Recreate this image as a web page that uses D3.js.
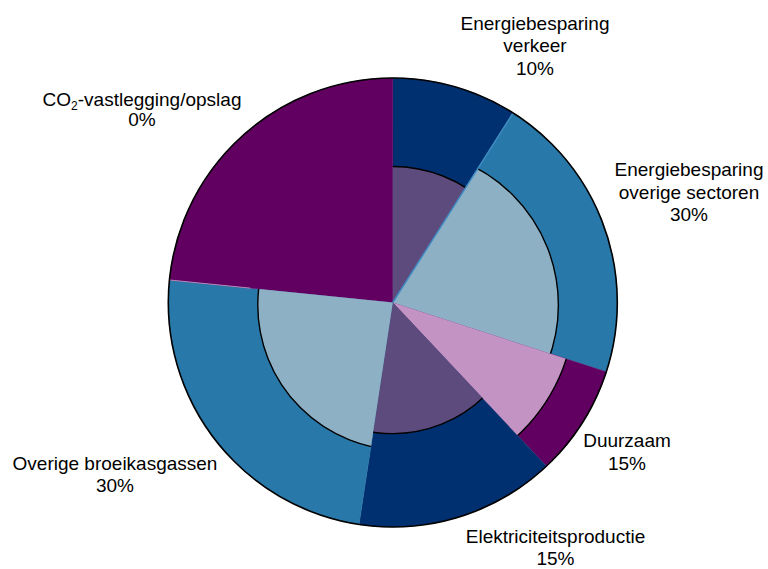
<!DOCTYPE html>
<html>
<head>
<meta charset="utf-8">
<script src="https://cdn.jsdelivr.net/npm/d3@7/dist/d3.min.js"></script>
<style>
  html, body { margin: 0; padding: 0; background: #ffffff; }
  svg { display: block; }
  text { font-family: "Liberation Sans", Arial, sans-serif; fill: #000; }
</style>
</head>
<body>
<svg id="chart" width="768" height="569"></svg>
<script>
// ---- data ----
const categories = ["Energiebesparing verkeer", "Energiebesparing overige sectoren", "Duurzaam",
                    "Elektriciteitsproductie", "Overige broeikasgassen", "CO2-vastlegging/opslag"];
const outerShares = [9, 21, 8, 14.4, 24.2, 23.4];            // size of each slice (outer ring)
const innerShares = [0.606, 0.693, 0.813, 0.584, 0.646, 0];  // relative radius of the inner (overlay) slice
const labelLines = [
  ["Energiebesparing", "verkeer"],
  ["Energiebesparing", "overige sectoren"],
  ["Duurzaam"],
  ["Elektriciteitsproductie"],
  ["Overige broeikasgassen"],
  ["CO2-vastlegging/opslag"]
];
const labelPct = ["10%", "30%", "15%", "15%", "30%", "0%"];

// ---- styling / layout ----
const W = 768, H = 569;
const cx = 392.8, cy = 302.5, R = 224.5;
const outerColors = ["#00306F", "#2878A9", "#610061", "#00306F", "#2878A9", "#610061"];
const innerColors = ["#5E4B7D", "#8DB0C5", "#C393C3", "#5E4B7D", "#8DB0C5", "#5E4B7D"];
const innerOffsets = [[0, 0], [10, 2.5], [0, 0], [0, 0], [10, 2.5], [0, 0]];
const labelPos = [
  { x: 535, ys: [29.5, 52, 74.5] },
  { x: 689, ys: [176, 199, 221] },
  { x: 627, ys: [447, 470] },
  { x: 555.5, ys: [542.5, 564.5] },
  { x: 115, ys: [469.5, 492] },
  { x: 142, ys: [106, 125.5] }
];

const data = categories.map((c, i) => ({ name: c, share: outerShares[i], inner: innerShares[i], i }));

const svg = d3.select("#chart");
const g = svg.append("g").attr("transform", `translate(${cx},${cy})`);

const pie = d3.pie().sort(null).value(d => d.share).startAngle(0).endAngle(2 * Math.PI);
const slices = pie(data);

const rScale = d3.scaleLinear().domain([0, 1]).range([0, R]);
const outerArc = d3.arc().innerRadius(0).outerRadius(R);
const wedgeArc = d3.arc().innerRadius(0).outerRadius(R + 3);

// outer slices
g.selectAll("path.outer").data(slices).enter().append("path")
  .attr("class", "outer")
  .attr("d", outerArc)
  .attr("fill", d => outerColors[d.data.i])
  .attr("stroke", d => outerColors[d.data.i])
  .attr("stroke-width", 0.4);

// thin light seam between "Overige broeikasgassen" and CO2 in the outer band
const pt = (a, r) => [Math.sin(a) * r, -Math.cos(a) * r];
{
  const s = slices[4];
  const a = s.endAngle;
  const p0 = pt(a, rScale(s.data.inner) - 2), p1 = pt(a, R);
  g.append("line").attr("x1", p0[0]).attr("y1", p0[1]).attr("x2", p1[0]).attr("y2", p1[1])
    .attr("stroke", "#B58AB8").attr("stroke-width", 1);
}

// inner overlay slices (clipped to the slice wedge)
const defs = svg.append("defs");
slices.forEach((s, k) => {
  if (!(s.data.inner > 0)) return;
  const id = "clip" + k;
  defs.append("clipPath").attr("id", id)
    .append("path").attr("d", wedgeArc(s)).attr("transform", `translate(${cx},${cy})`);
  const off = innerOffsets[s.data.i];
  svg.append("g").attr("clip-path", `url(#${id})`)
    .append("circle")
    .attr("cx", cx + off[0]).attr("cy", cy + off[1])
    .attr("r", rScale(s.data.inner))
    .attr("fill", innerColors[s.data.i])
    .attr("stroke", "#000").attr("stroke-width", 1.4);
});

// light seam between "verkeer" and "overige sectoren"
{
  const a = slices[0].endAngle;
  const p1 = pt(a, R);
  svg.append("line").attr("transform", `translate(${cx},${cy})`)
    .attr("x1", 0).attr("y1", 0).attr("x2", p1[0]).attr("y2", p1[1])
    .attr("stroke", "#3F8CC4").attr("stroke-width", 1.4);
}

// outer outline
svg.append("circle").attr("cx", cx).attr("cy", cy).attr("r", R)
  .attr("fill", "none").attr("stroke", "#000").attr("stroke-width", 1.6);

// labels
const lab = svg.append("g").attr("font-size", 19).attr("text-anchor", "middle");
data.forEach((d, i) => {
  const pos = labelPos[i];
  const t = lab.append("text");
  const lines = labelLines[i].concat([labelPct[i]]);
  lines.forEach((ln, j) => {
    if (ln.indexOf("CO2") === 0) {
      const ts = t.append("tspan").attr("x", pos.x).attr("y", pos.ys[j]);
      ts.append("tspan").text("CO");
      ts.append("tspan").attr("font-size", 12).attr("dy", 4).text("2");
      ts.append("tspan").attr("dy", -4).text(ln.slice(3));
    } else {
      t.append("tspan").attr("x", pos.x).attr("y", pos.ys[j]).text(ln);
    }
  });
});
</script>
</body>
</html>
